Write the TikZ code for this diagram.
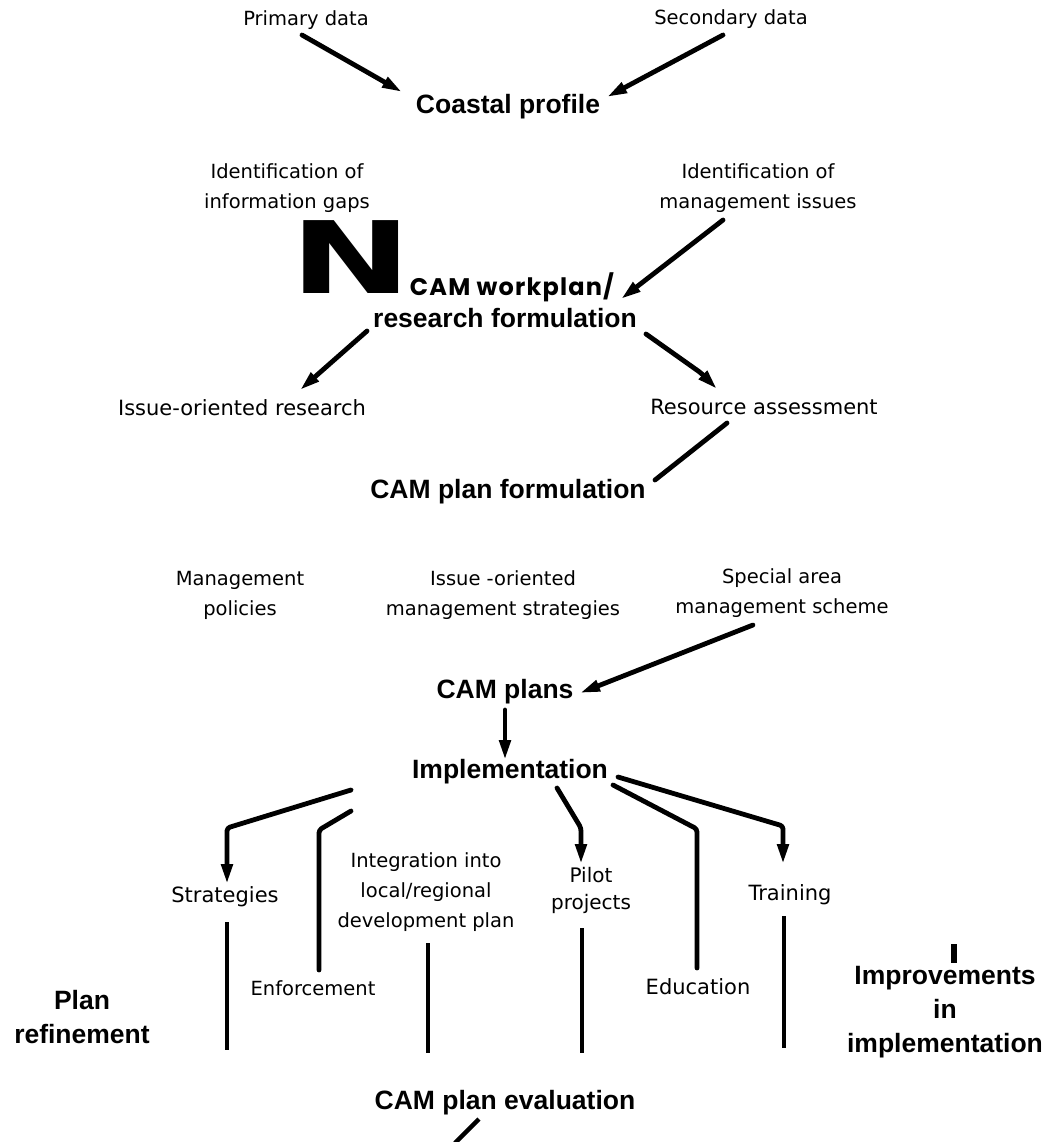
\documentclass[tikz,border=0pt]{standalone}
\usepackage{fontspec}
\setmainfont{DejaVu Sans}
\newfontfamily\headfont{Liberation Sans}
\newfontfamily\geofont{Poppins}[LetterSpace=5]
\usetikzlibrary{arrows.meta}

\begin{document}
\begin{tikzpicture}[x=1pt,y=-1pt,
  lbl/.style={inner sep=0pt, align=center, font=\fontsize{19.5}{30}\selectfont},
  biglbl/.style={lbl, font=\fontsize{21}{30}\selectfont},
  hlabel/.style={inner sep=0pt, align=center, font=\headfont\bfseries\fontsize{26.5}{34}\selectfont},
  conn/.style={line width=4.8pt, line cap=round, line join=round, rounded corners=3pt},
  arrowline/.style={conn, -{Triangle[length=20pt,width=11pt]}},
  vbar/.style={line width=4pt}]
\useasboundingbox (0,0) rectangle (1047,1142);

% ---- labels ----
\node[lbl] (prim) at (306,20) {Primary data};
\node[lbl] (sec) at (731,19) {Secondary data};
\node[hlabel] (coast) at (508,107) {Coastal profile};

\node[lbl] (gaps) at (287,188) {Identification of\\information gaps};
\node[lbl] (issues) at (758,188) {Identification of\\management issues};

\node[inner sep=0pt, font=\bfseries\fontsize{100}{100}\selectfont] (bigN) at (351.5,257.5) {\scalebox{1.45}[1]{N}};
\node[inner sep=0pt, font=\geofont\bfseries\fontsize{24}{28}\selectfont] (workplan) at (512,287) {CAM workplan/};
\node[hlabel] (resform) at (505,318) {research formulation};

\node[biglbl] (ior) at (242,408) {Issue-oriented research};
\node[biglbl] (ra) at (764,407) {Resource assessment};
\node[hlabel] (cpf) at (508,492) {CAM plan formulation};

\node[lbl] (mp) at (240,595) {Management\\policies};
\node[lbl] (ioms) at (503,595) {Issue -oriented\\management strategies};
\node[lbl] (sams) at (782,593) {Special area\\management scheme};

\node[hlabel] (cplans) at (505,692) {CAM plans};
\node[hlabel] (impl) at (510,772) {Implementation};

\node[biglbl] (strat) at (225,897) {Strategies};
\node[lbl] (integ) at (426,892) {Integration into\\local/regional\\development plan};
\node[lbl, font=\fontsize{20}{27}\selectfont] (pilot) at (591,890) {Pilot\\projects};
\node[biglbl] (train) at (790,895) {Training};
\node[lbl] (enf) at (313,988) {Enforcement};
\node[biglbl] (edu) at (698,987) {Education};

\node[hlabel] (refine) at (82,1017) {Plan\\refinement};
\node[hlabel] (improve) at (945,1012) {Improvements\\in\\implementation};
\node[hlabel] (cpe) at (505,1103) {CAM plan evaluation};

% ---- connector end points ----
\coordinate (primS) at (302,35);   \coordinate (primE) at (402,92);
\coordinate (secS) at (723,35);    \coordinate (secE) at (607,97);
\coordinate (issS) at (723,220);   \coordinate (issE) at (621,299);
\coordinate (iorS) at (367,331);   \coordinate (iorE) at (300,390);
\coordinate (raS) at (646,334);    \coordinate (raB) at (701,373);  \coordinate (raE) at (717,389);
\coordinate (cpfS) at (727,423);   \coordinate (cpfE) at (655,480);
\coordinate (samsS) at (753,625);  \coordinate (samsE) at (580,693);
\coordinate (plS) at (505,710);    \coordinate (plE) at (505,760);
\coordinate (stS) at (351,790);    \coordinate (stB) at (227,828);  \coordinate (stE) at (227,884);
\coordinate (enS) at (351,811);    \coordinate (enB) at (319,830);  \coordinate (enE) at (319,970);
\coordinate (piS) at (557,788);    \coordinate (piB) at (581,828);  \coordinate (piE) at (581,864);
\coordinate (edS) at (613,785);    \coordinate (edB) at (697,829);  \coordinate (edE) at (697,968);
\coordinate (trS) at (618,777);    \coordinate (trB) at (783,826);  \coordinate (trE) at (783,864);

% ---- connectors ----
\draw[arrowline] (primS) -- (primE);
\draw[arrowline] (secS) -- (secE);
\draw[arrowline] (issS) -- (issE);
\draw[arrowline] (iorS) -- (iorE);
\draw[arrowline] (raS) -- (raB) -- (raE);
\draw[conn] (cpfS) -- (cpfE);
\draw[arrowline] (samsS) -- (samsE);
\draw[arrowline] (plS) -- (plE);

\draw[arrowline] (stS) -- (stB) -- (stE);
\draw[conn] (enS) -- (enB) -- (enE);
\draw[arrowline] (piS) -- (piB) -- (piE);
\draw[conn] (edS) -- (edB) -- (edE);
\draw[arrowline] (trS) -- (trB) -- (trE);

% vertical bars running down towards the evaluation
\coordinate (stL1) at (227,922);  \coordinate (stL2) at (227,1050);
\coordinate (inL1) at (428,943);  \coordinate (inL2) at (428,1053);
\coordinate (piL1) at (582,928);  \coordinate (piL2) at (582,1053);
\coordinate (trL1) at (784,916);  \coordinate (trL2) at (784,1048);
\draw[vbar] (stL1) -- (stL2);
\draw[vbar] (inL1) -- (inL2);
\draw[vbar] (piL1) -- (piL2);
\draw[vbar] (trL1) -- (trL2);

% short marks
\coordinate (tkA) at (954,944);   \coordinate (tkB) at (954,963);
\draw[line width=5.5pt] (tkA) -- (tkB);
\coordinate (evA) at (479,1119);  \coordinate (evB) at (455,1143);
\draw[line width=4.5pt] (evA) -- (evB);
\end{tikzpicture}
\end{document}
